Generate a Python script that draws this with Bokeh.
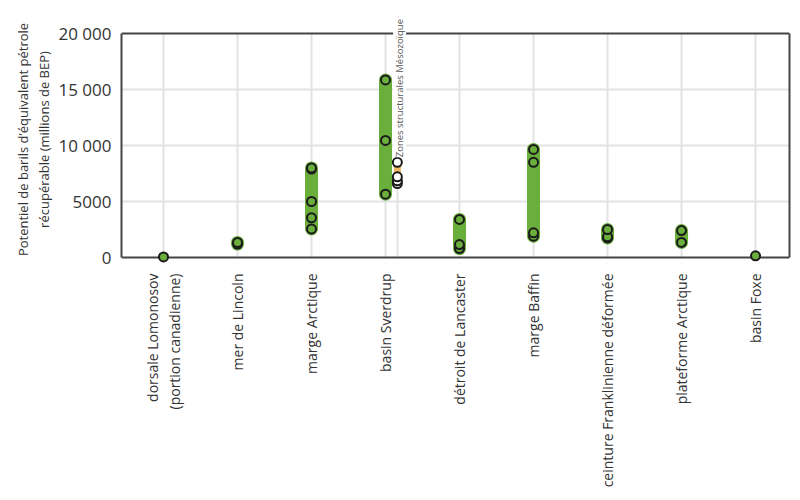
from math import pi
from bokeh.plotting import figure
from bokeh.models import FixedTicker, Label, Range1d, Span, LinearAxis, BoxAnnotation
from bokeh.embed import file_html
from bokeh.resources import INLINE

# ---- data (millions de BEP) ----
categories = [
    "dorsale Lomonosov\n(portion canadienne)",
    "mer de Lincoln",
    "marge Arctique",
    "basin Sverdrup",
    "détroit de Lancaster",
    "marge Baffin",
    "ceinture Franklinienne déformée",
    "plateforme Arctique",
    "basin Foxe",
]
lomonosov = [50]
lincoln = [1200, 1350]
marge_arctique = [2550, 3550, 5000, 7900, 8000]
sverdrup = [5650, 10450, 15850]
lancaster = [800, 1150, 3400]
baffin = [1900, 2200, 8500, 9650]
franklin = [1750, 1850, 2500]
plateforme = [1350, 2400]
foxe = [150]
mesozoique = [6600, 6850, 7200, 8500]
meso_label = "Zones structurales Mésozoïque"

y_ticks = [0, 5000, 10000, 15000, 20000]
y_tick_labels = ["0", "5000", "10 000", "15 000", "20 000"]

series = [lomonosov, lincoln, marge_arctique, sverdrup, lancaster,
          baffin, franklin, plateforme, foxe]

GREEN = "#6aae3c"
ORANGE = "#f2b866"
DARK = "#444444"
FONT = "Open Sans"
meso_x = 3.16
y_max = y_ticks[-1]
x_start, x_end = -0.5676, 8.459
y_lo = -y_max * 6 / 224        # a few pixels below 0 so dots on 0 are not cut
y_hi = y_max * 242 / 224       # room above 20 000 for the rotated label

p = figure(width=792, height=492, output_backend="svg", toolbar_location=None,
           x_range=Range1d(x_start, x_end), y_range=Range1d(y_lo, y_hi),
           min_border_left=121, min_border_right=3, min_border_top=15,
           min_border_bottom=229)
p.background_fill_color = "white"
p.border_fill_color = "white"
p.outline_line_color = None

# grid
p.xgrid.ticker = FixedTicker(ticks=[0, 1, 2, 3, meso_x, 4, 5, 6, 7, 8])
p.ygrid.ticker = FixedTicker(ticks=y_ticks[1:-1])
for g in (p.xgrid, p.ygrid):
    g.grid_line_color = "#e3e3e3"
    g.grid_line_width = 2
# hide grid outside 0..20 000
p.add_layout(BoxAnnotation(bottom=y_max, fill_color="white", fill_alpha=1,
                           line_color=None, level="underlay"))
p.add_layout(BoxAnnotation(top=0, fill_color="white", fill_alpha=1,
                           line_color=None, level="underlay"))
# frame lines at 0 and 20 000
p.add_layout(Span(location=0, dimension="width", line_color=DARK,
                  line_width=2, level="underlay"))
p.add_layout(Span(location=y_max, dimension="width", line_color=DARK,
                  line_width=2, level="underlay"))

# bars (min->max)
bx, b0, b1 = [], [], []
for i, vals in enumerate(series):
    if max(vals) > min(vals):
        bx.append(i); b0.append(min(vals)); b1.append(max(vals))
p.segment(x0=bx, y0=b0, x1=bx, y1=b1, line_width=13, line_cap="round",
          line_color=GREEN)
p.segment(x0=[meso_x], y0=[min(mesozoique)], x1=[meso_x], y1=[max(mesozoique)],
          line_width=7, line_cap="round", line_color=ORANGE)

# points
px, py = [], []
for i, vals in enumerate(series):
    px += [i] * len(vals)
    py += vals
p.scatter(px, py, size=9, fill_color=GREEN, line_color="#1a1a1a", line_width=2)
p.scatter([meso_x] * len(mesozoique), mesozoique, size=9, fill_color="white",
          line_color="#1a1a1a", line_width=2)

p.add_layout(Label(x=meso_x + 0.03, y=8950, text=meso_label, angle=pi / 2,
                   text_font=FONT, text_font_size="9.5px", text_color="#555555",
                   text_align="left", text_baseline="middle",
                   background_fill_color="white"))

# axes
p.yaxis.ticker = FixedTicker(ticks=y_ticks)
p.yaxis.bounds = (0, y_max)
p.yaxis.major_label_overrides = {t: l for t, l in zip(y_ticks, y_tick_labels)}
p.yaxis.axis_label = "Potentiel de barils d’équivalent pétrole\nrécupérable (millions de BEP)"
p.yaxis.axis_label_text_font = FONT
p.yaxis.axis_label_text_font_size = "13px"
p.yaxis.axis_label_text_font_style = "normal"
p.yaxis.axis_label_text_color = "#333333"
p.yaxis.axis_label_standoff = 2

p.xaxis.ticker = FixedTicker(ticks=list(range(len(categories))))
p.xaxis.major_label_overrides = {i: c for i, c in enumerate(categories)}
p.xaxis.major_label_orientation = pi / 2

for ax in (p.xaxis, p.yaxis):
    ax.axis_line_color = DARK
    ax.axis_line_width = 2
    ax.major_tick_line_color = None
    ax.minor_tick_line_color = None
    ax.major_label_text_font = FONT
    ax.major_label_text_color = "#333333"
p.xaxis.axis_line_color = None
p.yaxis.major_label_text_font_size = "17px"
p.yaxis.major_label_standoff = 4
p.xaxis.major_label_text_font_size = "14px"
p.xaxis.major_label_standoff = 4

right = LinearAxis(ticker=FixedTicker(ticks=[]), bounds=(0, y_max),
                   axis_line_color=DARK, axis_line_width=2,
                   major_tick_line_color=None, minor_tick_line_color=None,
                   major_tick_out=0, major_label_standoff=0)
p.add_layout(right, "right")

open("out.html", "w").write(file_html(p, INLINE))
